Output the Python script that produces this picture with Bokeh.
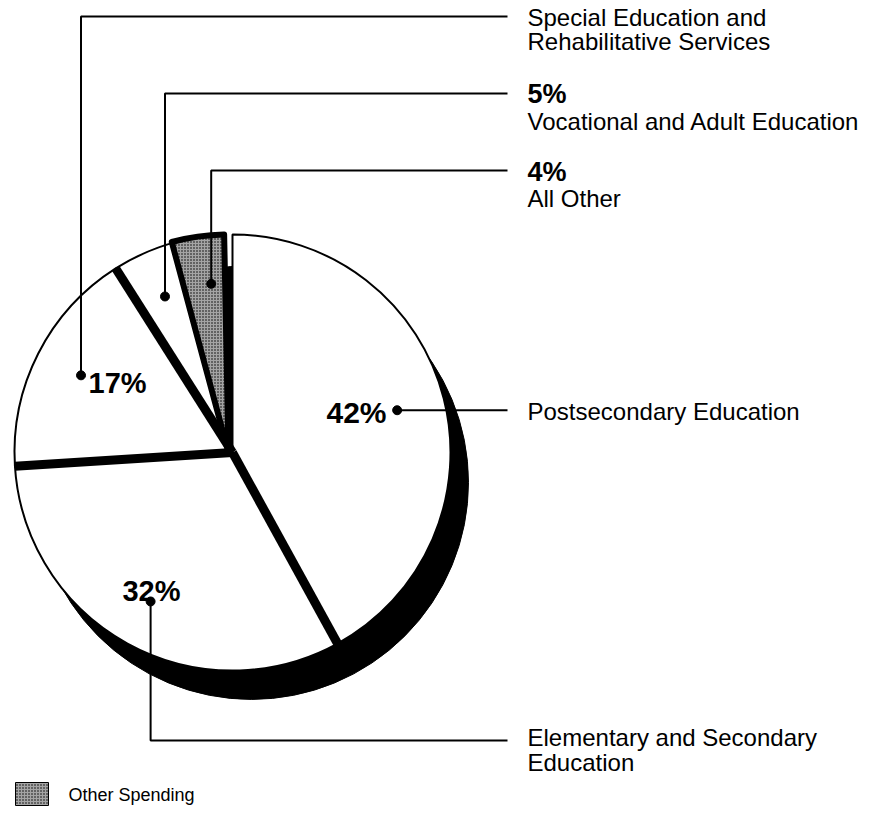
import numpy as np
from bokeh.plotting import figure
from bokeh.models import Range1d
from bokeh.embed import file_html
from bokeh.resources import INLINE
from bokeh.core.properties import value

# ---------------- data ----------------
categories = ["Postsecondary Education",
              "Elementary and Secondary Education",
              "Special Education and Rehabilitative Services",
              "Vocational and Adult Education",
              "All Other"]
shares = [42, 32, 17, 5, 4]
pct_labels = ["42%", "32%", "17%", "5%", "4%"]
name_lines = [["Postsecondary Education"],
              ["Elementary and Secondary", "Education"],
              ["Special Education and", "Rehabilitative Services"],
              ["Vocational and Adult Education"],
              ["All Other"]]
legend_label = "Other Spending"

# ---------------- layout ----------------
W, H = 866, 822
def X(px):
    return px
def Y(py):
    return H - py

cx, cy = X(232), Y(452)
R = 218
FONT = "Liberation Sans"
STIPPLE = dict(fill_color="#a4a4a4", hatch_pattern="dot", hatch_scale=3,
               hatch_weight=2.4, hatch_color="black")

p = figure(width=W, height=H, output_backend="svg", toolbar_location=None,
           x_range=Range1d(0, W), y_range=Range1d(0, H), min_border=0)
p.axis.visible = False
p.grid.visible = False
p.outline_line_color = None
p.background_fill_color = "white"
p.border_fill_color = "white"

frac = np.array(shares, dtype=float) / sum(shares)
cum_end = np.cumsum(frac)
cum_start = cum_end - frac
start_ang = np.pi / 2 - 2 * np.pi * cum_start
end_ang = np.pi / 2 - 2 * np.pi * cum_end
mid_ang = (start_ang + end_ang) / 2

# 3D shadow
p.circle(x=[cx + 19], y=[cy - 30], radius=217, fill_color="black", line_color="black")

# white slices
white_idx = [0, 1, 2, 3]
p.wedge(x=cx, y=cy, radius=R,
        start_angle=[start_ang[i] for i in white_idx],
        end_angle=[end_ang[i] for i in white_idx],
        direction="clock", fill_color="white", line_color="black", line_width=2)

# thick separators between slices
sep = [end_ang[0], end_ang[1], end_ang[2]]
p.segment(x0=[cx] * 3, y0=[cy] * 3,
          x1=[cx + R * np.cos(a) for a in sep], y1=[cy + R * np.sin(a) for a in sep],
          line_color="black", line_width=9, line_cap="butt")

# "All Other" slice, stippled, slightly pulled out
p.wedge(x=cx - 4, y=cy, radius=R,
        start_angle=start_ang[4] + 0.012, end_angle=end_ang[4] + 0.02,
        direction="clock", line_color="black", line_width=6, line_join="round",
        **STIPPLE)

# dots at mid-angles
DR = 170
dx = cx + DR * np.cos(mid_ang)
dy = cy + DR * np.sin(mid_ang)
p.scatter(x=dx, y=dy, size=9, fill_color="black", line_color="black")

# leader lines
LX = X(507)
turn_y = [None, Y(740), Y(16), Y(93), Y(170)]
xs, ys = [], []
for i in range(5):
    if turn_y[i] is None:
        xs.append([dx[i], LX]); ys.append([dy[i], dy[i]])
    else:
        xs.append([dx[i], dx[i], LX]); ys.append([dy[i], turn_y[i], turn_y[i]])
p.multi_line(xs=xs, ys=ys, line_color="black", line_width=2)

# percentage labels in the pie
p.text(x=[X(386)], y=[Y(412)], text=[pct_labels[0]], text_font=value(FONT),
       text_font_style="bold", text_font_size="30px", text_align="right",
       text_baseline="middle", text_color="black")
p.text(x=[X(151)], y=[Y(590)], text=[pct_labels[1]], text_font=value(FONT),
       text_font_style="bold", text_font_size="29px", text_align="center",
       text_baseline="middle", text_color="black")
p.text(x=[X(88)], y=[Y(382)], text=[pct_labels[2]], text_font=value(FONT),
       text_font_style="bold", text_font_size="29px", text_align="left",
       text_baseline="middle", text_color="black")

# right-hand labels
TX = X(527)
bold_y = {3: Y(93), 4: Y(171)}
name_y = {0: [Y(411)], 1: [Y(737), Y(762)], 2: [Y(17), Y(41)], 3: [Y(121)], 4: [Y(198)]}
for i, yy in bold_y.items():
    p.text(x=[TX], y=[yy], text=[pct_labels[i]], text_font=value(FONT),
           text_font_style="bold", text_font_size="27px", text_align="left",
           text_baseline="middle", text_color="black")
for i in range(5):
    for line, yy in zip(name_lines[i], name_y[i]):
        p.text(x=[TX], y=[yy], text=[line], text_font=value(FONT),
               text_font_size="24px", text_align="left",
               text_baseline="middle", text_color="black")

# legend
p.quad(left=[X(15)], right=[X(48)], top=[Y(782)], bottom=[Y(805)],
       line_color="black", line_width=1, **STIPPLE)
p.text(x=[X(68)], y=[Y(794)], text=[legend_label], text_font=value(FONT),
       text_font_size="18px", text_align="left", text_baseline="middle",
       text_color="black")

open("out.html", "w").write(file_html(p, INLINE))
